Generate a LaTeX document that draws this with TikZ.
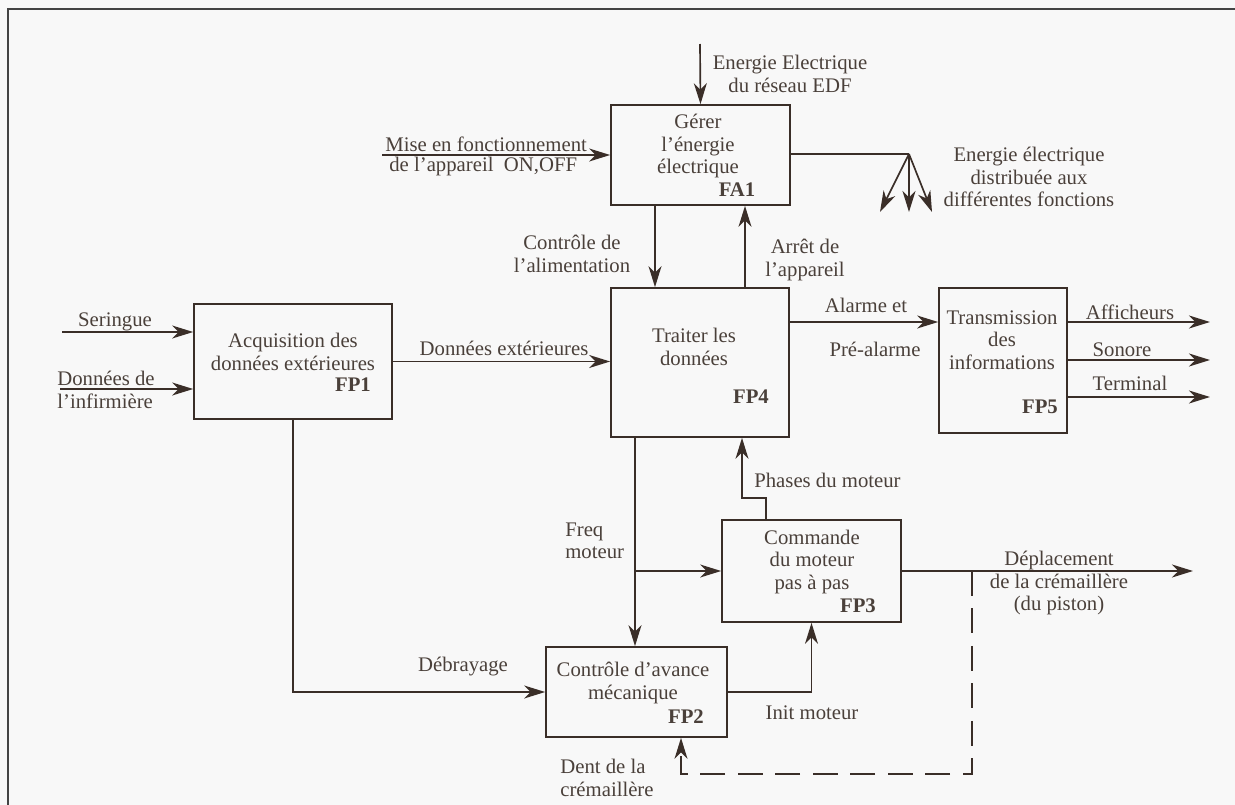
\documentclass[tikz,border=0pt]{standalone}
\usepackage{fontspec}
\setmainfont{Liberation Serif}
\usetikzlibrary{arrows.meta}
\definecolor{linec}{HTML}{3A2E28}
\definecolor{textc}{HTML}{4A403A}
\definecolor{backc}{HTML}{F8F8F8}
\definecolor{framec}{HTML}{444444}
\tikzset{
  box/.style={draw=linec, line width=1pt, inner sep=0pt},
  ln/.style={draw=linec, line width=0.95pt},
  arr/.style={ln, -{Stealth[length=0.42cm,width=0.26cm,inset=0.13cm]}},
  txt/.style={text=textc, align=center, inner sep=0pt, font=\fontsize{11.8pt}{12.8pt}\selectfont},
  code/.style={txt, font=\fontsize{11.8pt}{12.8pt}\selectfont\bfseries}
}

\begin{document}
\begin{tikzpicture}[x=0.02cm, y=-0.02cm]
  \fill[backc] (0,0) rectangle (1235,805);
  \useasboundingbox (0,0) rectangle (1235,805);
  \draw[framec, line width=1.7pt] (8,805) -- (8,9) -- (1235,9);

  \node[box, minimum width=3.58cm, minimum height=2cm] (fa1) at (700.5,155) {};
  \node[box, minimum width=3.56cm, minimum height=2.98cm] (fp4) at (700,362.5) {};
  \node[box, minimum width=3.96cm, minimum height=2.3cm] (fp1) at (293,361.5) {};
  \node[box, minimum width=2.56cm, minimum height=2.9cm] (fp5) at (1003,360.5) {};
  \node[box, minimum width=3.58cm, minimum height=2.04cm] (fp3) at (811.5,571) {};
  \node[box, minimum width=3.62cm, minimum height=1.8cm] (fp2) at (636.5,692) {};

  \node[txt] (gerer) at (698,146) {Gérer\\l'énergie\\électrique};
  \node[code] (fa1c) at (737,190) {FA1};
  \node[txt] (acq) at (293,352) {Acquisition des\\données extérieures};
  \node[code] (fp1c) at (353,385) {FP1};
  \node[txt] (trait) at (694,347) {Traiter les\\données};
  \node[code] (fp4c) at (751,397) {FP4};
  \node[txt] (trans) at (1002,340) {Transmission\\des\\informations};
  \node[code] (fp5c) at (1040,407) {FP5};
  \node[txt] (cmd) at (812,562) {Commande\\du moteur\\pas à pas};
  \node[code] (fp3c) at (858,606) {FP3};
  \node[txt] (avance) at (633,683) {Contrôle d'avance\\mécanique};
  \node[code] (fp2c) at (686,717) {FP2};

  \coordinate (edf) at (700,44);
  \coordinate (mise) at (382,155);
  \coordinate (ctl) at (655,0);
  \coordinate (stp) at (745,0);
  \coordinate (fan) at (909,154);
  \coordinate (fanl) at (880,212);
  \coordinate (fanm) at (909,212);
  \coordinate (fanr) at (932,212);
  \coordinate (ser) at (62,332);
  \coordinate (inf) at (60,389);
  \coordinate (al) at (0,322);
  \coordinate (aff) at (1210,322);
  \coordinate (son) at (1210,360);
  \coordinate (ter) at (1210,397);
  \coordinate (frq) at (635,0);
  \coordinate (ph1) at (766,0);
  \coordinate (ph2) at (742,498);
  \coordinate (dep) at (1193,571);
  \coordinate (dsh) at (972,774);
  \coordinate (fb) at (681,0);

  \draw[arr] (edf) -- (fa1.north);
  \draw[arr] (mise) -- (mise -| fa1.west);
  \draw[arr] (fa1.south -| ctl) -- (fp4.north -| ctl);
  \draw[arr] (fp4.north -| stp) -- (fa1.south -| stp);
  \draw[ln] (fa1.east |- fan) -- (fan);
  \draw[arr] (fan) -- (fanl);
  \draw[arr] (fan) -- (fanm);
  \draw[arr] (fan) -- (fanr);
  \draw[arr] (ser) -- (ser -| fp1.west);
  \draw[arr] (inf) -- (inf -| fp1.west);
  \draw[arr] (fp1.east) -- (fp1.east -| fp4.west);
  \draw[arr] (fp4.east |- al) -- (fp5.west |- al);
  \draw[arr] (fp5.east |- aff) -- (aff);
  \draw[arr] (fp5.east |- son) -- (son);
  \draw[arr] (fp5.east |- ter) -- (ter);
  \draw[arr] (fp4.south -| frq) -- (fp2.north -| frq);
  \draw[arr] (fp3.west -| frq) -- (fp3.west);
  \draw[arr] (fp3.north -| ph1) |- (ph2) -- (fp4.south -| ph2);
  \draw[arr] (fp3.east) -- (dep);
  \draw[arr, dash pattern=on 0.5cm off 0.25cm] (fp3.east -| dsh) -- (dsh) -| (fp2.south -| fb);
  \draw[arr] (fp1.south) |- (fp2.west);
  \draw[arr] (fp2.east) -| (fp3.south);

  \node[txt] (edft) at (790,74) {Energie Electrique\\du réseau EDF};
  \node[txt, anchor=west] (miset) at (385,144) {Mise en fonctionnement};
  \node[txt, anchor=west] (appt) at (389,167) {de l'appareil~~ON,OFF};
  \node[txt] (ctlt) at (572,254) {Contrôle de\\l'alimentation};
  \node[txt] (stpt) at (805,260) {Arrêt de\\l'appareil};
  \node[txt] (fant) at (1029,177) {Energie électrique\\distribuée aux\\différentes fonctions};
  \node[txt] (sert) at (115,322) {Seringue};
  \node[txt, anchor=west, align=left] (inft) at (57,390) {Données de\\l'infirmière};
  \node[txt] (extt) at (504,348) {Données extérieures};
  \node[txt] (alt) at (866,305) {Alarme et};
  \node[txt] (palt) at (875,349) {Pré-alarme};
  \node[txt] (afft) at (1130,312) {Afficheurs};
  \node[txt] (sont) at (1122,350) {Sonore};
  \node[txt] (tert) at (1130,383) {Terminal};
  \node[txt, anchor=west, align=left] (frqt) at (565,541) {Freq\\moteur};
  \node[txt, anchor=west] (pht) at (754,480) {Phases du moteur};
  \node[txt] (dept) at (1059,583) {Déplacement\\de la crémaillère\\(du piston)};
  \node[txt] (debt) at (463,667) {Débrayage};
  \node[txt] (init) at (812,713) {Init moteur};
  \node[txt, anchor=west, align=left] (dentt) at (560,778) {Dent de la\\crémaillère};
\end{tikzpicture}
\end{document}
